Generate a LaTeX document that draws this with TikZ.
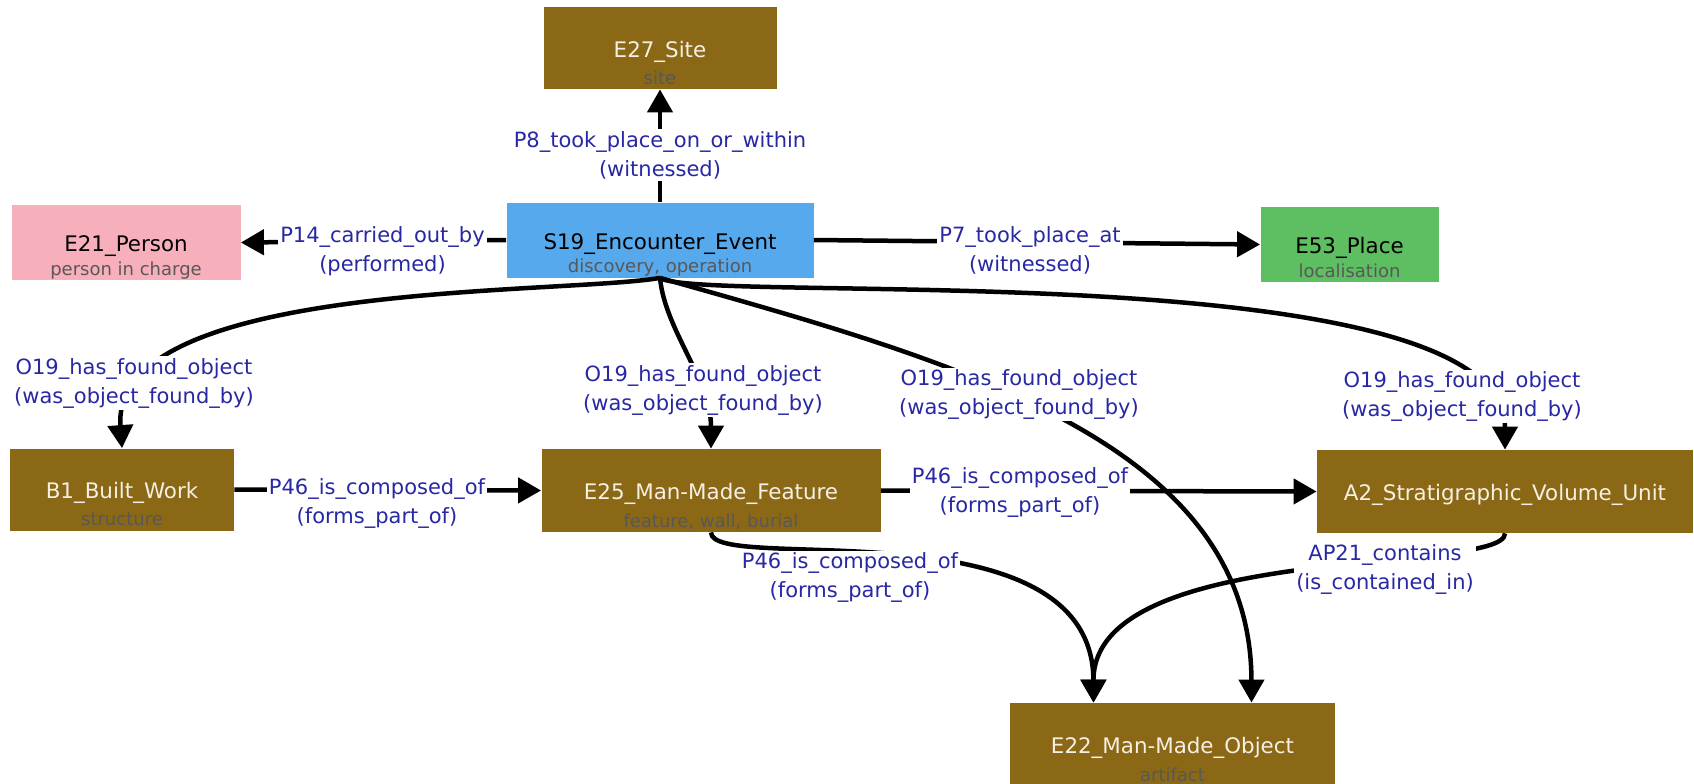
\documentclass[tikz,border=0pt]{standalone}
\usepackage{fontspec}
\setmainfont{DejaVu Sans}
\usetikzlibrary{arrows.meta,calc}
\definecolor{brn}{RGB}{139,104,22}
\definecolor{pnk}{RGB}{248,175,188}
\definecolor{sky}{RGB}{86,169,236}
\definecolor{grn}{RGB}{94,190,98}
\definecolor{cream}{RGB}{245,240,226}
\definecolor{lblblue}{RGB}{40,40,165}
\definecolor{subgray}{RGB}{88,88,88}
\begin{document}
\begin{tikzpicture}[x=0.5pt,y=-0.5pt,
  cls/.style={rectangle,inner sep=0pt,text height=9.2pt,text depth=0pt,
    font=\fontsize{10.7}{13}\selectfont},
  brwn/.style={cls,fill=brn,text=cream},
  sub/.style={anchor=base,inner sep=0pt,text=subgray,font=\fontsize{9}{11}\selectfont},
  rel/.style={fill=white,inner sep=1pt,align=center,text=lblblue,
    font=\fontsize{10.5}{14.5}\selectfont},
  edge/.style={line width=2.25pt,-{Triangle[length=11.5pt,width=12.5pt]}}]
\useasboundingbox (0,0) rectangle (1694,783);
%%% the classes
\node[brwn,minimum width=116.5pt,minimum height=41pt] (site) at (660,48) {E27\_Site};
\node[sub] (sitesub) at ([yshift=2.5pt]site.south) {site};
\node[cls,fill=pnk,minimum width=114.5pt,minimum height=37.5pt] (person) at (126,242.5) {E21\_Person};
\node[sub] (personsub) at ([yshift=2.5pt]person.south) {person in charge};
\node[cls,fill=sky,minimum width=153.5pt,minimum height=37.5pt] (event) at (660,240) {S19\_Encounter\_Event};
\node[sub] (eventsub) at ([yshift=2.5pt]event.south) {discovery, operation};
\node[cls,fill=grn,minimum width=89pt,minimum height=37.5pt] (place) at (1349.5,244.5) {E53\_Place};
\node[sub] (placesub) at ([yshift=2.5pt]place.south) {localisation};
\node[brwn,minimum width=112pt,minimum height=41pt] (built) at (122,489.5) {B1\_Built\_Work};
\node[sub] (builtsub) at ([yshift=2.5pt]built.south) {structure};
\node[brwn,minimum width=169.5pt,minimum height=41.5pt] (feature) at (711,490.5) {E25\_Man-Made\_Feature};
\node[sub] (featuresub) at ([yshift=2.5pt]feature.south) {feature, wall, burial};
\node[brwn,minimum width=188pt,minimum height=41.5pt] (unit) at (1505,491.5) {A2\_Stratigraphic\_Volume\_Unit};
\node[brwn,minimum width=162.5pt,minimum height=41.5pt] (object) at (1172.5,744.5) {E22\_Man-Made\_Object};
\node[sub] (objectsub) at ([yshift=2.5pt]object.south) {artifact};
%%% the properties
\draw[edge] (event.north) -- (site.south);
\draw[edge] (event.west) -- (person.east);
\draw[edge] (event.east) -- (place.west);
\draw[edge] (event.south) .. controls (560,295) and (110,280) .. (built.north);
\draw[edge] (event.south) .. controls (665,330) and (711,380) .. (feature.north);
\draw[edge] (event.south) .. controls (950,360) and (1251,440) .. ($(object.north)+(79,0)$);
\draw[edge] (event.south) .. controls (700,305) and (1505,250) .. (unit.north);
\draw[edge] (built.east) -- (feature.west);
\draw[edge] (feature.east) -- (unit.west);
\draw[edge] (feature.south) .. controls (711,575) and (1093,500) .. ($(object.north)+(-79,0)$);
\draw[edge] (unit.south) .. controls (1505,575) and (1093,540) .. ($(object.north)+(-79,0)$);
% \draw[edge] (unit.south) -- (object.north);
%%% the labels, on top of the lines
\node[rel] (p8) at (660,155) {P8\_took\_place\_on\_or\_within\\(witnessed)};
\node[rel] (p14) at (382.5,251) {P14\_carried\_out\_by\\(performed)};
\node[rel] (p7) at (1030,250) {P7\_took\_place\_at\\(witnessed)};
\node[rel] (o19built) at (134,383) {O19\_has\_found\_object\\(was\_object\_found\_by)};
\node[rel] (o19feature) at (703,390) {O19\_has\_found\_object\\(was\_object\_found\_by)};
\node[rel] (o19object) at (1019,394.5) {O19\_has\_found\_object\\(was\_object\_found\_by)};
\node[rel] (o19unit) at (1462,396.5) {O19\_has\_found\_object\\(was\_object\_found\_by)};
\node[rel] (p46built) at (377,503) {P46\_is\_composed\_of\\(forms\_part\_of)};
\node[rel] (p46unit) at (1020,492.5) {P46\_is\_composed\_of\\(forms\_part\_of)};
\node[rel] (p46object) at (850,577.5) {P46\_is\_composed\_of\\(forms\_part\_of)};
\node[rel] (ap21) at (1385,569) {AP21\_contains\\(is\_contained\_in)};
\end{tikzpicture}
\end{document}
